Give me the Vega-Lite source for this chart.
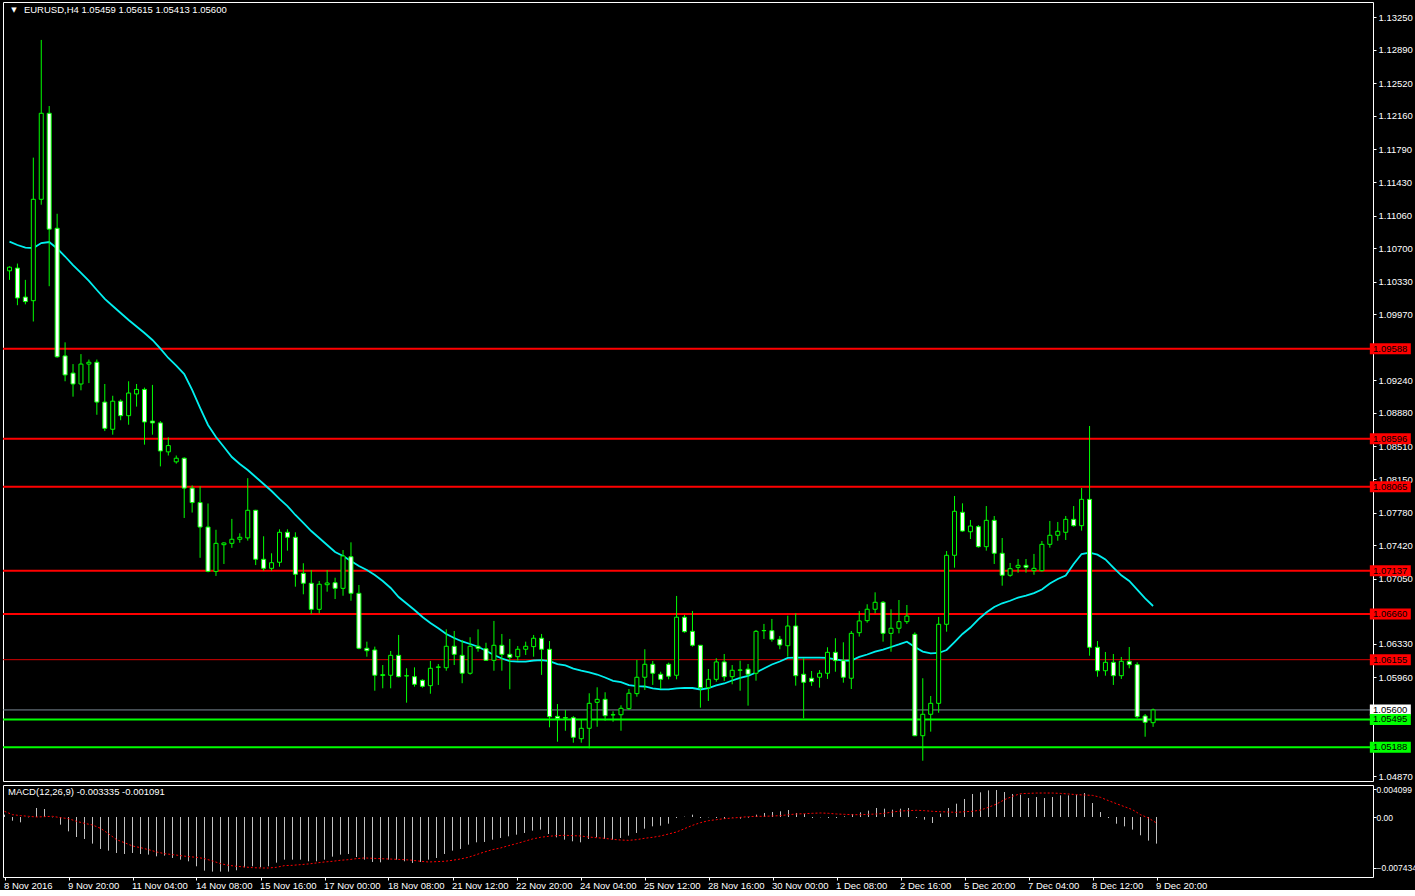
{
"$schema": "https://vega.github.io/schema/vega-lite/v6.json",
"background": "#000000",
"padding": {"left": 1, "top": 1, "right": 0, "bottom": 0},
"spacing": 2,
"config": {
 "view": {"stroke": "#ffffff", "strokeWidth": 1},
 "font": "Liberation Sans",
 "axis": {"labelFont": "Liberation Sans", "labelFontSize": 9.5, "labelColor": "#ffffff", "tickColor": "#ffffff", "tickSize": 3, "domain": false, "grid": false, "labelPadding": 2, "labelOverlap": false}
},
"datasets": {
"levels": [
 {"p": 1.05600, "k": "c"},
 {"p": 1.09588, "k": "r"},
 {"p": 1.08596, "k": "r"},
 {"p": 1.08065, "k": "r"},
 {"p": 1.07137, "k": "r"},
 {"p": 1.06660, "k": "r"},
 {"p": 1.06155, "k": "t"},
 {"p": 1.05495, "k": "g"},
 {"p": 1.05188, "k": "g"}
],
"bars": [
{"i":0,"o":1.1045,"h":1.105,"l":1.1035,"c":1.1049,"a":1.10772,"m":0.00034,"s":0.00083},
{"i":1,"o":1.1048,"h":1.1053,"l":1.1007,"c":1.1015,"a":1.10735,"m":-0.00054,"s":0.00034},
{"i":2,"o":1.1016,"h":1.1035,"l":1.1008,"c":1.1011,"a":1.10705,"m":-0.00078,"s":0.0002},
{"i":3,"o":1.1012,"h":1.117,"l":1.0989,"c":1.1124,"a":1.10702,"m":-0.00005,"s":0.0001},
{"i":4,"o":1.1124,"h":1.13,"l":1.1118,"c":1.1219,"a":1.10757,"m":0.00132,"s":0},
{"i":5,"o":1.1219,"h":1.1227,"l":1.1028,"c":1.1091,"a":1.10768,"m":0.00117,"s":0.00005},
{"i":6,"o":1.1092,"h":1.1108,"l":1.0949,"c":1.095,"a":1.10696,"m":-0.00005,"s":0.0001},
{"i":7,"o":1.0951,"h":1.0966,"l":1.0923,"c":1.093,"a":1.10608,"m":-0.00112,"s":-0.0001},
{"i":8,"o":1.0932,"h":1.0942,"l":1.0906,"c":1.092,"a":1.10514,"m":-0.0021,"s":-0.00024},
{"i":9,"o":1.092,"h":1.0953,"l":1.0913,"c":1.0942,"a":1.10426,"m":-0.00293,"s":-0.00063},
{"i":10,"o":1.0942,"h":1.0947,"l":1.0921,"c":1.0944,"a":1.10338,"m":-0.00322,"s":-0.00093},
{"i":11,"o":1.0944,"h":1.0947,"l":1.0886,"c":1.09,"a":1.10238,"m":-0.0039,"s":-0.00117},
{"i":12,"o":1.09,"h":1.092,"l":1.0868,"c":1.0871,"a":1.10139,"m":-0.00468,"s":-0.00166},
{"i":13,"o":1.087,"h":1.0907,"l":1.0864,"c":1.0901,"a":1.10061,"m":-0.00493,"s":-0.00244},
{"i":14,"o":1.0901,"h":1.0903,"l":1.088,"c":1.0885,"a":1.09984,"m":-0.00527,"s":-0.00332},
{"i":15,"o":1.0885,"h":1.0923,"l":1.0875,"c":1.091,"a":1.09907,"m":-0.00542,"s":-0.00376},
{"i":16,"o":1.0909,"h":1.092,"l":1.0895,"c":1.0914,"a":1.09835,"m":-0.00527,"s":-0.00425},
{"i":17,"o":1.0914,"h":1.0916,"l":1.0853,"c":1.0878,"a":1.09763,"m":-0.00542,"s":-0.00449},
{"i":18,"o":1.0879,"h":1.0919,"l":1.0864,"c":1.0877,"a":1.09686,"m":-0.00551,"s":-0.00478},
{"i":19,"o":1.0877,"h":1.0879,"l":1.0829,"c":1.0846,"a":1.0959,"m":-0.00576,"s":-0.00512},
{"i":20,"o":1.0845,"h":1.0861,"l":1.0841,"c":1.0852,"a":1.09487,"m":-0.00566,"s":-0.00537},
{"i":21,"o":1.0834,"h":1.0841,"l":1.0832,"c":1.0838,"a":1.09402,"m":-0.006,"s":-0.00551},
{"i":22,"o":1.0838,"h":1.0839,"l":1.0772,"c":1.0805,"a":1.0931,"m":-0.00625,"s":-0.00566},
{"i":23,"o":1.0805,"h":1.0808,"l":1.0778,"c":1.0789,"a":1.09134,"m":-0.00649,"s":-0.00581},
{"i":24,"o":1.0789,"h":1.0807,"l":1.0728,"c":1.0762,"a":1.08935,"m":-0.00722,"s":-0.0059},
{"i":25,"o":1.0762,"h":1.0788,"l":1.0712,"c":1.0713,"a":1.08747,"m":-0.00786,"s":-0.0061},
{"i":26,"o":1.0713,"h":1.0759,"l":1.0708,"c":1.0744,"a":1.08614,"m":-0.008,"s":-0.00644},
{"i":27,"o":1.07425,"h":1.07451,"l":1.07212,"c":1.07444,"a":1.08504,"m":-0.008,"s":-0.00683},
{"i":28,"o":1.0744,"h":1.0771,"l":1.0739,"c":1.07485,"a":1.08393,"m":-0.008,"s":-0.00708},
{"i":29,"o":1.07485,"h":1.07551,"l":1.07447,"c":1.07507,"a":1.08316,"m":-0.00781,"s":-0.00722},
{"i":30,"o":1.075,"h":1.0816,"l":1.0747,"c":1.07805,"a":1.0825,"m":-0.00737,"s":-0.00732},
{"i":31,"o":1.07805,"h":1.0781,"l":1.072,"c":1.07264,"a":1.08173,"m":-0.00722,"s":-0.00742},
{"i":32,"o":1.07264,"h":1.07518,"l":1.07138,"c":1.07164,"a":1.08095,"m":-0.00737,"s":-0.00747},
{"i":33,"o":1.07164,"h":1.0733,"l":1.07138,"c":1.07226,"a":1.08018,"m":-0.00722,"s":-0.00747},
{"i":34,"o":1.07231,"h":1.07595,"l":1.07182,"c":1.07562,"a":1.0793,"m":-0.00669,"s":-0.00737},
{"i":35,"o":1.07562,"h":1.07595,"l":1.07359,"c":1.07507,"a":1.07852,"m":-0.00625,"s":-0.00712},
{"i":36,"o":1.07507,"h":1.07562,"l":1.06961,"c":1.07098,"a":1.07753,"m":-0.00625,"s":-0.00708},
{"i":37,"o":1.07109,"h":1.0722,"l":1.06877,"c":1.06999,"a":1.07665,"m":-0.00625,"s":-0.00698},
{"i":38,"o":1.06999,"h":1.07145,"l":1.06659,"c":1.06711,"a":1.07576,"m":-0.00649,"s":-0.00688},
{"i":39,"o":1.06711,"h":1.07024,"l":1.06667,"c":1.06988,"a":1.07499,"m":-0.00649,"s":-0.00673},
{"i":40,"o":1.06983,"h":1.07145,"l":1.06906,"c":1.07002,"a":1.07422,"m":-0.00625,"s":-0.00659},
{"i":41,"o":1.07005,"h":1.0706,"l":1.06825,"c":1.06943,"a":1.07344,"m":-0.00581,"s":-0.00649},
{"i":42,"o":1.06943,"h":1.07366,"l":1.06861,"c":1.073,"a":1.073,"m":-0.00551,"s":-0.00634},
{"i":43,"o":1.07292,"h":1.07451,"l":1.06806,"c":1.06888,"a":1.07245,"m":-0.00542,"s":-0.00625},
{"i":44,"o":1.06888,"h":1.0698,"l":1.0627,"c":1.06281,"a":1.0719,"m":-0.00586,"s":-0.0061},
{"i":45,"o":1.06281,"h":1.06354,"l":1.06188,"c":1.06254,"a":1.07145,"m":-0.00625,"s":-0.006},
{"i":46,"o":1.06262,"h":1.06299,"l":1.05812,"c":1.05983,"a":1.0709,"m":-0.00659,"s":-0.00605},
{"i":47,"o":1.0598,"h":1.06096,"l":1.05839,"c":1.0599,"a":1.07024,"m":-0.00664,"s":-0.0061},
{"i":48,"o":1.05983,"h":1.06251,"l":1.05839,"c":1.06203,"a":1.06947,"m":-0.00625,"s":-0.00615},
{"i":49,"o":1.06203,"h":1.06428,"l":1.0596,"c":1.05967,"a":1.06847,"m":-0.00625,"s":-0.0062},
{"i":50,"o":1.05975,"h":1.0606,"l":1.0568,"c":1.05978,"a":1.06775,"m":-0.00649,"s":-0.00625},
{"i":51,"o":1.05967,"h":1.0607,"l":1.05857,"c":1.05883,"a":1.06704,"m":-0.00673,"s":-0.00634},
{"i":52,"o":1.05927,"h":1.05938,"l":1.05846,"c":1.05861,"a":1.06626,"m":-0.00659,"s":-0.00649},
{"i":53,"o":1.05868,"h":1.06141,"l":1.05779,"c":1.0606,"a":1.0656,"m":-0.00625,"s":-0.00659},
{"i":54,"o":1.0607,"h":1.06107,"l":1.05876,"c":1.06075,"a":1.06502,"m":-0.006,"s":-0.00654},
{"i":55,"o":1.06066,"h":1.0649,"l":1.06033,"c":1.06303,"a":1.06439,"m":-0.00542,"s":-0.00649},
{"i":56,"o":1.06303,"h":1.06472,"l":1.06096,"c":1.06214,"a":1.06394,"m":-0.00493,"s":-0.00634},
{"i":57,"o":1.06203,"h":1.06373,"l":1.05895,"c":1.06005,"a":1.06356,"m":-0.00468,"s":-0.00615},
{"i":58,"o":1.06005,"h":1.06403,"l":1.0599,"c":1.06303,"a":1.06328,"m":-0.00405,"s":-0.0059},
{"i":59,"o":1.06303,"h":1.0649,"l":1.06243,"c":1.06281,"a":1.06298,"m":-0.00371,"s":-0.00551},
{"i":60,"o":1.06276,"h":1.06342,"l":1.06145,"c":1.06148,"a":1.06254,"m":-0.00366,"s":-0.00512},
{"i":61,"o":1.06148,"h":1.06583,"l":1.06033,"c":1.06314,"a":1.06207,"m":-0.00332,"s":-0.00478},
{"i":62,"o":1.06314,"h":1.06439,"l":1.06033,"c":1.06214,"a":1.06168,"m":-0.00307,"s":-0.00454},
{"i":63,"o":1.06214,"h":1.06384,"l":1.05828,"c":1.06181,"a":1.06138,"m":-0.00283,"s":-0.0042},
{"i":64,"o":1.06188,"h":1.06306,"l":1.06144,"c":1.0627,"a":1.06133,"m":-0.00259,"s":-0.0039},
{"i":65,"o":1.0627,"h":1.06354,"l":1.06207,"c":1.06303,"a":1.06133,"m":-0.00234,"s":-0.00356},
{"i":66,"o":1.06299,"h":1.06428,"l":1.06188,"c":1.06392,"a":1.06146,"m":-0.002,"s":-0.00322},
{"i":67,"o":1.06392,"h":1.06439,"l":1.05987,"c":1.0627,"a":1.06151,"m":-0.00185,"s":-0.00298},
{"i":68,"o":1.0627,"h":1.06361,"l":1.05408,"c":1.05525,"a":1.06138,"m":-0.00249,"s":-0.00283},
{"i":69,"o":1.05529,"h":1.05665,"l":1.05249,"c":1.05507,"a":1.06107,"m":-0.00298,"s":-0.00273},
{"i":70,"o":1.05515,"h":1.056,"l":1.0537,"c":1.0551,"a":1.06091,"m":-0.00332,"s":-0.00268},
{"i":71,"o":1.05514,"h":1.05532,"l":1.05238,"c":1.05298,"a":1.06057,"m":-0.00356,"s":-0.00273},
{"i":72,"o":1.05282,"h":1.05496,"l":1.05238,"c":1.05397,"a":1.06035,"m":-0.00371,"s":-0.00278},
{"i":73,"o":1.05397,"h":1.05784,"l":1.05176,"c":1.05673,"a":1.06016,"m":-0.00322,"s":-0.00293},
{"i":74,"o":1.05684,"h":1.0585,"l":1.05414,"c":1.05717,"a":1.05991,"m":-0.00298,"s":-0.00303},
{"i":75,"o":1.05717,"h":1.05795,"l":1.05481,"c":1.05536,"a":1.05958,"m":-0.00322,"s":-0.00312},
{"i":76,"o":1.05545,"h":1.05585,"l":1.0547,"c":1.05547,"a":1.05922,"m":-0.00332,"s":-0.00327},
{"i":77,"o":1.05547,"h":1.05651,"l":1.0537,"c":1.05618,"a":1.05908,"m":-0.00307,"s":-0.00337},
{"i":78,"o":1.05614,"h":1.05831,"l":1.056,"c":1.05784,"a":1.05875,"m":-0.00273,"s":-0.00342},
{"i":79,"o":1.0578,"h":1.06152,"l":1.05746,"c":1.05961,"a":1.05864,"m":-0.00234,"s":-0.00332},
{"i":80,"o":1.05961,"h":1.0627,"l":1.0582,"c":1.06104,"a":1.05859,"m":-0.00171,"s":-0.00312},
{"i":81,"o":1.06104,"h":1.06141,"l":1.05876,"c":1.06005,"a":1.05837,"m":-0.00137,"s":-0.00298},
{"i":82,"o":1.05994,"h":1.06022,"l":1.05831,"c":1.05938,"a":1.05826,"m":-0.00127,"s":-0.00278},
{"i":83,"o":1.06104,"h":1.06122,"l":1.05938,"c":1.05972,"a":1.05826,"m":-0.00098,"s":-0.00249},
{"i":84,"o":1.05983,"h":1.06859,"l":1.05938,"c":1.06624,"a":1.05837,"m":-0.00015,"s":-0.0022},
{"i":85,"o":1.06624,"h":1.06649,"l":1.06453,"c":1.06464,"a":1.05844,"m":0.00005,"s":-0.00171},
{"i":86,"o":1.06468,"h":1.06693,"l":1.06299,"c":1.06314,"a":1.05842,"m":0.00034,"s":-0.00122},
{"i":87,"o":1.06314,"h":1.06314,"l":1.05625,"c":1.05846,"a":1.05826,"m":-0.00015,"s":-0.00083},
{"i":88,"o":1.05846,"h":1.06052,"l":1.05699,"c":1.05938,"a":1.05842,"m":-0.00005,"s":-0.00054},
{"i":89,"o":1.05938,"h":1.06171,"l":1.05912,"c":1.0613,"a":1.0587,"m":-0.00015,"s":-0.00039},
{"i":90,"o":1.0613,"h":1.06218,"l":1.0592,"c":1.05967,"a":1.05892,"m":-0.00029,"s":-0.00024},
{"i":91,"o":1.05967,"h":1.06096,"l":1.05883,"c":1.06038,"a":1.05925,"m":-0.00005,"s":-0.00015},
{"i":92,"o":1.06038,"h":1.06144,"l":1.05812,"c":1.06042,"a":1.05953,"m":-0.00024,"s":-0.00005},
{"i":93,"o":1.0605,"h":1.06107,"l":1.05647,"c":1.05994,"a":1.05975,"m":-0.0001,"s":0.00005},
{"i":94,"o":1.06005,"h":1.06483,"l":1.05923,"c":1.06468,"a":1.06013,"m":0.00034,"s":0.0001},
{"i":95,"o":1.06475,"h":1.0655,"l":1.06384,"c":1.06477,"a":1.06058,"m":0.00059,"s":0.0001},
{"i":96,"o":1.06475,"h":1.06605,"l":1.06354,"c":1.0638,"a":1.06102,"m":0.00073,"s":0.00015},
{"i":97,"o":1.0638,"h":1.06417,"l":1.0627,"c":1.06317,"a":1.06135,"m":0.00083,"s":0.0002},
{"i":98,"o":1.06309,"h":1.06641,"l":1.06188,"c":1.06527,"a":1.06174,"m":0.00102,"s":0.00034},
{"i":99,"o":1.06527,"h":1.06667,"l":1.05868,"c":1.05978,"a":1.06177,"m":0.00059,"s":0.00044},
{"i":100,"o":1.05994,"h":1.06171,"l":1.05507,"c":1.05905,"a":1.06177,"m":0.00044,"s":0.00049},
{"i":101,"o":1.0595,"h":1.0603,"l":1.05865,"c":1.05912,"a":1.06177,"m":-0.00015,"s":0.00054},
{"i":102,"o":1.05961,"h":1.0604,"l":1.05846,"c":1.06005,"a":1.06177,"m":-0.00005,"s":0.00059},
{"i":103,"o":1.06005,"h":1.06292,"l":1.05942,"c":1.06236,"a":1.06174,"m":-0.00015,"s":0.00054},
{"i":104,"o":1.06236,"h":1.06392,"l":1.06022,"c":1.06144,"a":1.06159,"m":-0.00015,"s":0.00044},
{"i":105,"o":1.06144,"h":1.06347,"l":1.05901,"c":1.05961,"a":1.06144,"m":0.0001,"s":0.00039},
{"i":106,"o":1.0595,"h":1.06472,"l":1.05831,"c":1.06446,"a":1.06146,"m":0.00044,"s":0.00034},
{"i":107,"o":1.06453,"h":1.06693,"l":1.0641,"c":1.06583,"a":1.06185,"m":0.00068,"s":0.00034},
{"i":108,"o":1.06586,"h":1.06767,"l":1.06564,"c":1.06712,"a":1.06212,"m":0.00093,"s":0.00039},
{"i":109,"o":1.06712,"h":1.06899,"l":1.06667,"c":1.06789,"a":1.06243,"m":0.00132,"s":0.00044},
{"i":110,"o":1.06789,"h":1.06803,"l":1.06354,"c":1.06446,"a":1.06267,"m":0.00122,"s":0.00054},
{"i":111,"o":1.06446,"h":1.06712,"l":1.06243,"c":1.06502,"a":1.06295,"m":0.00107,"s":0.00073},
{"i":112,"o":1.06502,"h":1.06814,"l":1.06446,"c":1.06575,"a":1.06323,"m":0.00122,"s":0.00088},
{"i":113,"o":1.06575,"h":1.06759,"l":1.0655,"c":1.06637,"a":1.06354,"m":0.00132,"s":0.00093},
{"i":114,"o":1.06435,"h":1.06457,"l":1.0531,"c":1.05315,"a":1.06295,"m":-0.00015,"s":0.00098},
{"i":115,"o":1.05315,"h":1.0595,"l":1.05039,"c":1.05552,"a":1.06245,"m":-0.00039,"s":0.00093},
{"i":116,"o":1.05552,"h":1.05754,"l":1.0536,"c":1.05673,"a":1.06225,"m":-0.00088,"s":0.00083},
{"i":117,"o":1.05673,"h":1.06627,"l":1.05569,"c":1.06546,"a":1.06229,"m":0.00049,"s":0.00078},
{"i":118,"o":1.06546,"h":1.07355,"l":1.06464,"c":1.07308,"a":1.06262,"m":0.00132,"s":0.00073},
{"i":119,"o":1.07308,"h":1.07963,"l":1.07171,"c":1.07794,"a":1.0635,"m":0.00195,"s":0.00068},
{"i":120,"o":1.07783,"h":1.07882,"l":1.07568,"c":1.07576,"a":1.06439,"m":0.00264,"s":0.00078},
{"i":121,"o":1.07568,"h":1.07698,"l":1.07488,"c":1.07631,"a":1.0651,"m":0.00337,"s":0.00083},
{"i":122,"o":1.07624,"h":1.07642,"l":1.07392,"c":1.07403,"a":1.06601,"m":0.00361,"s":0.00102},
{"i":123,"o":1.07403,"h":1.07852,"l":1.07359,"c":1.07694,"a":1.06676,"m":0.0039,"s":0.00142},
{"i":124,"o":1.07694,"h":1.07742,"l":1.07212,"c":1.0733,"a":1.06737,"m":0.00395,"s":0.0019},
{"i":125,"o":1.0733,"h":1.07499,"l":1.06972,"c":1.07087,"a":1.06778,"m":0.00366,"s":0.00254},
{"i":126,"o":1.07087,"h":1.07223,"l":1.07071,"c":1.0716,"a":1.06806,"m":0.00337,"s":0.00303},
{"i":127,"o":1.07175,"h":1.07267,"l":1.07116,"c":1.07197,"a":1.06841,"m":0.00327,"s":0.00342},
{"i":128,"o":1.07197,"h":1.07267,"l":1.07116,"c":1.07175,"a":1.06862,"m":0.00278,"s":0.00346},
{"i":129,"o":1.07138,"h":1.07323,"l":1.07093,"c":1.07164,"a":1.06891,"m":0.00293,"s":0.00351},
{"i":130,"o":1.07138,"h":1.07466,"l":1.07127,"c":1.07429,"a":1.0693,"m":0.00278,"s":0.00351},
{"i":131,"o":1.07429,"h":1.07687,"l":1.07392,"c":1.07529,"a":1.06996,"m":0.00293,"s":0.00351},
{"i":132,"o":1.07529,"h":1.07676,"l":1.07469,"c":1.07573,"a":1.07046,"m":0.00317,"s":0.00346},
{"i":133,"o":1.07562,"h":1.07742,"l":1.07477,"c":1.07705,"a":1.07085,"m":0.00317,"s":0.00337},
{"i":134,"o":1.07705,"h":1.07852,"l":1.07624,"c":1.07635,"a":1.07212,"m":0.00327,"s":0.00327},
{"i":135,"o":1.07635,"h":1.08051,"l":1.0758,"c":1.07926,"a":1.07322,"m":0.00351,"s":0.00322},
{"i":136,"o":1.07926,"h":1.08736,"l":1.06199,"c":1.06292,"a":1.07337,"m":0.00205,"s":0.00317},
{"i":137,"o":1.06292,"h":1.06361,"l":1.05967,"c":1.06033,"a":1.07315,"m":0.00073,"s":0.00288},
{"i":138,"o":1.06033,"h":1.0624,"l":1.05978,"c":1.06126,"a":1.07262,"m":-0.00015,"s":0.00239},
{"i":139,"o":1.06126,"h":1.06218,"l":1.05876,"c":1.05978,"a":1.07173,"m":-0.00098,"s":0.00195},
{"i":140,"o":1.05978,"h":1.06185,"l":1.05942,"c":1.06137,"a":1.07087,"m":-0.00137,"s":0.00151},
{"i":141,"o":1.06137,"h":1.06295,"l":1.0606,"c":1.061,"a":1.07024,"m":-0.00185,"s":0.00107},
{"i":142,"o":1.061,"h":1.06126,"l":1.05507,"c":1.05525,"a":1.06928,"m":-0.00268,"s":0.00034},
{"i":143,"o":1.05533,"h":1.05555,"l":1.05304,"c":1.05463,"a":1.06831,"m":-0.00346,"s":-0.00015},
{"i":144,"o":1.05459,"h":1.05615,"l":1.05413,"c":1.056,"a":1.06748,"m":-0.0039,"s":-0.00088}
]
},
"vconcat": [
{
 "width": 1370,
 "height": 779,
 "resolve": {"scale": {"stroke": "independent", "fill": "independent"}},
 "layer": [
  {
   "data": {"name": "levels"},
   "transform": [{"filter": "datum.k == 't' || datum.k == 'c'"}],
   "mark": {"type": "rule", "strokeWidth": 1},
   "encoding": {
    "y": {"field": "p", "type": "quantitative", "title": null,
          "scale": {"domain": [1.04815, 1.13419], "nice": false, "zero": false},
          "axis": {"orient": "right", "values": [1.1325,1.1289,1.1252,1.1216,1.1179,1.1143,1.1106,1.107,1.1033,1.0997,1.0924,1.0888,1.0851,1.0815,1.0778,1.0742,1.0705,1.0633,1.0596,1.0487], "format": ".5f", "labelOverlap": false, "labelBaseline": "middle", "labelFlush": false, "labelBound": false}},
    "stroke": {"field": "k", "type": "nominal", "scale": {"domain": ["r","t","c","g"], "range": ["#ff0000","#d80000","#7a8794","#00ff00"]}, "legend": null}
   }
  },
  {
   "data": {"name": "levels"},
   "transform": [{"filter": "datum.k == 'r' || datum.k == 'g'"}],
   "mark": {"type": "rule", "strokeWidth": 2},
   "encoding": {
    "y": {"field": "p", "type": "quantitative", "title": null,
          "scale": {"domain": [1.04815, 1.13419], "nice": false, "zero": false},
          "axis": {"orient": "right", "values": [1.1325,1.1289,1.1252,1.1216,1.1179,1.1143,1.1106,1.107,1.1033,1.0997,1.0924,1.0888,1.0851,1.0815,1.0778,1.0742,1.0705,1.0633,1.0596,1.0487], "format": ".5f", "labelOverlap": false, "labelBaseline": "middle", "labelFlush": false, "labelBound": false}},
    "stroke": {"field": "k", "type": "nominal", "scale": {"domain": ["r","t","c","g"], "range": ["#ff0000","#d80000","#7a8794","#00ff00"]}, "legend": null}
   }
  },
  {
   "data": {"name": "bars"},
   "mark": {"type": "line", "color": "#00f0f0", "strokeWidth": 1.8, "clip": true},
   "encoding": {
    "x": {"field": "i", "type": "quantitative", "title": null, "axis": null, "scale": {"domain": [-0.1875, 171.0625], "nice": false, "zero": false}},
    "y": {"field": "a", "type": "quantitative", "title": null, "scale": {"domain": [1.04815, 1.13419], "nice": false, "zero": false},
          "axis": {"orient": "right", "values": [1.1325,1.1289,1.1252,1.1216,1.1179,1.1143,1.1106,1.107,1.1033,1.0997,1.0924,1.0888,1.0851,1.0815,1.0778,1.0742,1.0705,1.0633,1.0596,1.0487], "format": ".5f", "labelOverlap": false, "labelBaseline": "middle", "labelFlush": false, "labelBound": false}}
   }
  },
  {
   "data": {"name": "bars"},
   "mark": {"type": "rule", "color": "#00ff00", "strokeWidth": 1, "clip": true},
   "encoding": {
    "x": {"field": "i", "type": "quantitative", "title": null, "axis": null, "scale": {"domain": [-0.1875, 171.0625], "nice": false, "zero": false}},
    "y": {"field": "l", "type": "quantitative", "title": null, "scale": {"domain": [1.04815, 1.13419], "nice": false, "zero": false},
          "axis": {"orient": "right", "values": [1.1325,1.1289,1.1252,1.1216,1.1179,1.1143,1.1106,1.107,1.1033,1.0997,1.0924,1.0888,1.0851,1.0815,1.0778,1.0742,1.0705,1.0633,1.0596,1.0487], "format": ".5f", "labelOverlap": false, "labelBaseline": "middle", "labelFlush": false, "labelBound": false}},
    "y2": {"field": "h"}
   }
  },
  {
   "data": {"name": "bars"},
   "mark": {"type": "bar", "size": 4, "stroke": "#00ff00", "strokeWidth": 1, "clip": true},
   "encoding": {
    "x": {"field": "i", "type": "quantitative", "title": null, "axis": null, "scale": {"domain": [-0.1875, 171.0625], "nice": false, "zero": false}},
    "y": {"field": "o", "type": "quantitative", "title": null, "scale": {"domain": [1.04815, 1.13419], "nice": false, "zero": false},
          "axis": {"orient": "right", "values": [1.1325,1.1289,1.1252,1.1216,1.1179,1.1143,1.1106,1.107,1.1033,1.0997,1.0924,1.0888,1.0851,1.0815,1.0778,1.0742,1.0705,1.0633,1.0596,1.0487], "format": ".5f", "labelOverlap": false, "labelBaseline": "middle", "labelFlush": false, "labelBound": false}},
    "y2": {"field": "c"},
    "fill": {"condition": {"test": "datum.c >= datum.o", "value": "#000000"}, "value": "#ffffff"}
   }
  },
  {
   "data": {"name": "levels"},
   "mark": {"type": "tick", "orient": "horizontal", "size": 41, "thickness": 11, "opacity": 1},
   "encoding": {
    "x": {"datum": 173.875, "type": "quantitative", "title": null, "axis": null, "scale": {"domain": [-0.1875, 171.0625], "nice": false, "zero": false}},
    "y": {"field": "p", "type": "quantitative", "title": null, "scale": {"domain": [1.04815, 1.13419], "nice": false, "zero": false},
          "axis": {"orient": "right", "values": [1.1325,1.1289,1.1252,1.1216,1.1179,1.1143,1.1106,1.107,1.1033,1.0997,1.0924,1.0888,1.0851,1.0815,1.0778,1.0742,1.0705,1.0633,1.0596,1.0487], "format": ".5f", "labelOverlap": false, "labelBaseline": "middle", "labelFlush": false, "labelBound": false}},
    "fill": {"field": "k", "type": "nominal", "scale": {"domain": ["r","t","c","g"], "range": ["#ff0000","#ff0000","#ffffff","#00ff00"]}, "legend": null}
   }
  },
  {
   "data": {"name": "levels"},
   "mark": {"type": "text", "align": "left", "baseline": "middle", "fontSize": 9.5, "color": "#000000"},
   "encoding": {
    "x": {"datum": 171.6875, "type": "quantitative", "title": null, "axis": null, "scale": {"domain": [-0.1875, 171.0625], "nice": false, "zero": false}},
    "y": {"field": "p", "type": "quantitative", "title": null, "scale": {"domain": [1.04815, 1.13419], "nice": false, "zero": false},
          "axis": {"orient": "right", "values": [1.1325,1.1289,1.1252,1.1216,1.1179,1.1143,1.1106,1.107,1.1033,1.0997,1.0924,1.0888,1.0851,1.0815,1.0778,1.0742,1.0705,1.0633,1.0596,1.0487], "format": ".5f", "labelOverlap": false, "labelBaseline": "middle", "labelFlush": false, "labelBound": false}},
    "text": {"field": "p", "type": "quantitative", "format": ".5f"}
   }
  },
  {
   "data": {"values": [{"t": "▼"}]},
   "mark": {"type": "text", "align": "center", "baseline": "middle", "fontSize": 7, "font": "DejaVu Sans", "color": "#ffffff"},
   "encoding": {
    "x": {"datum": 0.5625, "type": "quantitative", "title": null, "axis": null, "scale": {"domain": [-0.1875, 171.0625], "nice": false, "zero": false}},
    "y": {"datum": 1.13331, "type": "quantitative", "title": null, "scale": {"domain": [1.04815, 1.13419], "nice": false, "zero": false},
          "axis": {"orient": "right", "values": [1.1325,1.1289,1.1252,1.1216,1.1179,1.1143,1.1106,1.107,1.1033,1.0997,1.0924,1.0888,1.0851,1.0815,1.0778,1.0742,1.0705,1.0633,1.0596,1.0487], "format": ".5f", "labelOverlap": false, "labelBaseline": "middle", "labelFlush": false, "labelBound": false}},
    "text": {"field": "t"}
   }
  },
  {
   "data": {"values": [{"t": "EURUSD,H4  1.05459 1.05615 1.05413 1.05600"}]},
   "mark": {"type": "text", "align": "left", "baseline": "middle", "fontSize": 9.5, "color": "#ffffff"},
   "encoding": {
    "x": {"datum": 1.8125, "type": "quantitative", "title": null, "axis": null, "scale": {"domain": [-0.1875, 171.0625], "nice": false, "zero": false}},
    "y": {"datum": 1.13331, "type": "quantitative", "title": null, "scale": {"domain": [1.04815, 1.13419], "nice": false, "zero": false},
          "axis": {"orient": "right", "values": [1.1325,1.1289,1.1252,1.1216,1.1179,1.1143,1.1106,1.107,1.1033,1.0997,1.0924,1.0888,1.0851,1.0815,1.0778,1.0742,1.0705,1.0633,1.0596,1.0487], "format": ".5f", "labelOverlap": false, "labelBaseline": "middle", "labelFlush": false, "labelBound": false}},
    "text": {"field": "t"}
   }
  }
 ]
},
{
 "width": 1370,
 "height": 92,
 "layer": [
  {
   "data": {"name": "bars"},
   "mark": {"type": "rule", "color": "#c0c0c0", "strokeWidth": 1, "clip": true},
   "encoding": {
    "x": {"field": "i", "type": "quantitative", "title": null,
          "scale": {"domain": [-0.1875, 171.0625], "nice": false, "zero": false},
          "axis": {"orient": "bottom", "values": [0,8,16,24,32,40,48,56,64,72,80,88,96,104,112,120,128,136,144], "labelAlign": "left", "labelOffset": -1, "labelOverlap": false, "labelFlush": false, "labelBound": false, "labelPadding": 0, "labelExpr": "['8 Nov 2016','9 Nov 20:00','11 Nov 04:00','14 Nov 08:00','15 Nov 16:00','17 Nov 00:00','18 Nov 08:00','21 Nov 12:00','22 Nov 20:00','24 Nov 04:00','25 Nov 12:00','28 Nov 16:00','30 Nov 00:00','1 Dec 08:00','2 Dec 16:00','5 Dec 20:00','7 Dec 04:00','8 Dec 12:00','9 Dec 20:00'][round(datum.value/8)]"}},
    "y": {"field": "m", "type": "quantitative", "title": null,
          "scale": {"domain": [-0.00879, 0.004688], "nice": false, "zero": false},
          "axis": {"orient": "right", "values": [0.004099, 0, -0.007434], "labelOverlap": false, "labelFlush": false, "labelBound": false, "labelBaseline": "middle", "labelFontSize": 8.5, "labelPadding": 0, "labelExpr": "datum.value == 0 ? '0.00' : format(datum.value, '.6f')"}},
    "y2": {"datum": 0}
   }
  },
  {
   "data": {"name": "bars"},
   "mark": {"type": "line", "color": "#ff0000", "strokeWidth": 1, "strokeDash": [2, 2], "clip": true},
   "encoding": {
    "x": {"field": "i", "type": "quantitative", "title": null, "scale": {"domain": [-0.1875, 171.0625], "nice": false, "zero": false},
          "axis": {"orient": "bottom", "values": [0,8,16,24,32,40,48,56,64,72,80,88,96,104,112,120,128,136,144], "labelAlign": "left", "labelOffset": -1, "labelOverlap": false, "labelFlush": false, "labelBound": false, "labelPadding": 0, "labelExpr": "['8 Nov 2016','9 Nov 20:00','11 Nov 04:00','14 Nov 08:00','15 Nov 16:00','17 Nov 00:00','18 Nov 08:00','21 Nov 12:00','22 Nov 20:00','24 Nov 04:00','25 Nov 12:00','28 Nov 16:00','30 Nov 00:00','1 Dec 08:00','2 Dec 16:00','5 Dec 20:00','7 Dec 04:00','8 Dec 12:00','9 Dec 20:00'][round(datum.value/8)]"}},
    "y": {"field": "s", "type": "quantitative", "title": null, "scale": {"domain": [-0.00879, 0.004688], "nice": false, "zero": false},
          "axis": {"orient": "right", "values": [0.004099, 0, -0.007434], "labelOverlap": false, "labelFlush": false, "labelBound": false, "labelBaseline": "middle", "labelFontSize": 8.5, "labelPadding": 0, "labelExpr": "datum.value == 0 ? '0.00' : format(datum.value, '.6f')"}}
   }
  },
  {
   "data": {"values": [{"t": "MACD(12,26,9) -0.003335 -0.001091"}]},
   "mark": {"type": "text", "align": "left", "baseline": "middle", "fontSize": 9.5, "color": "#ffffff"},
   "encoding": {
    "x": {"datum": 0.4375, "type": "quantitative", "title": null, "scale": {"domain": [-0.1875, 171.0625], "nice": false, "zero": false},
          "axis": {"orient": "bottom", "values": [0,8,16,24,32,40,48,56,64,72,80,88,96,104,112,120,128,136,144], "labelAlign": "left", "labelOffset": -1, "labelOverlap": false, "labelFlush": false, "labelBound": false, "labelPadding": 0, "labelExpr": "['8 Nov 2016','9 Nov 20:00','11 Nov 04:00','14 Nov 08:00','15 Nov 16:00','17 Nov 00:00','18 Nov 08:00','21 Nov 12:00','22 Nov 20:00','24 Nov 04:00','25 Nov 12:00','28 Nov 16:00','30 Nov 00:00','1 Dec 08:00','2 Dec 16:00','5 Dec 20:00','7 Dec 04:00','8 Dec 12:00','9 Dec 20:00'][round(datum.value/8)]"}},
    "y": {"datum": 0.00359, "type": "quantitative", "title": null, "scale": {"domain": [-0.00879, 0.004688], "nice": false, "zero": false},
          "axis": {"orient": "right", "values": [0.004099, 0, -0.007434], "labelOverlap": false, "labelFlush": false, "labelBound": false, "labelBaseline": "middle", "labelFontSize": 8.5, "labelPadding": 0, "labelExpr": "datum.value == 0 ? '0.00' : format(datum.value, '.6f')"}},
    "text": {"field": "t"}
   }
  }
 ]
}
]
}
